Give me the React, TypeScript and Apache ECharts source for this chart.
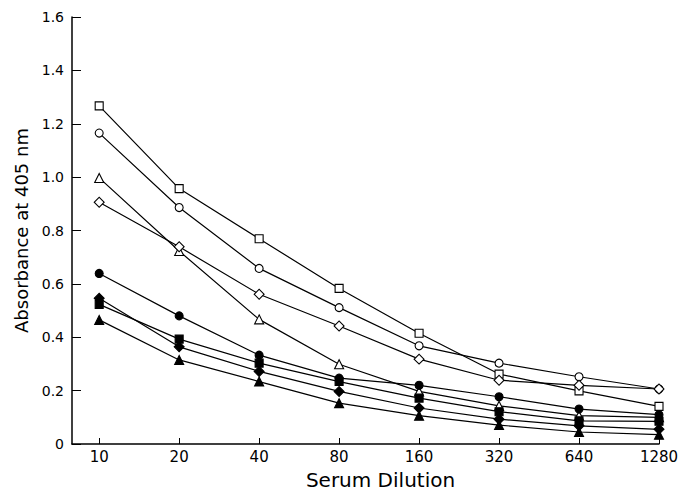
import React, { useEffect, useRef } from "react";
import * as echarts from "echarts";

const dilutions = ["10", "20", "40", "80", "160", "320", "640", "1280"];
const yTicks = ["0", "0.2", "0.4", "0.6", "0.8", "1.0", "1.2", "1.4", "1.6"];

const openSquare = [1.267, 0.957, 0.769, 0.583, 0.415, 0.262, 0.199, 0.141];
const openCircle = [1.165, 0.886, 0.658, 0.511, 0.368, 0.303, 0.252, 0.206];
const openTriangle = [0.997, 0.723, 0.467, 0.299, 0.197, 0.143, 0.106, 0.1];
const openDiamond = [0.906, 0.739, 0.561, 0.442, 0.318, 0.239, 0.22, 0.206];
const filledCircle = [0.639, 0.48, 0.333, 0.247, 0.22, 0.177, 0.131, 0.11];
const filledSquare = [0.523, 0.393, 0.303, 0.234, 0.172, 0.121, 0.087, 0.085];
const filledDiamond = [0.546, 0.364, 0.272, 0.197, 0.135, 0.093, 0.068, 0.055];
const filledTriangle = [0.465, 0.315, 0.234, 0.153, 0.106, 0.071, 0.045, 0.035];

const FONT = "DejaVu Sans";

export default function App() {
  const ref = useRef<HTMLDivElement>(null);
  useEffect(() => {
    if (!ref.current) return;
    const chart = echarts.init(ref.current, null, { renderer: "svg" });
    const idx = dilutions.map((_, i) => i);
    const mk = (vals: number[], symbol: string, filled: boolean, size: number, rotate = 0) => ({
      type: "line",
      data: vals.map((v, i) => [i, v]),
      symbol,
      symbolSize: size,
      symbolRotate: rotate,
      showAllSymbol: true,
      lineStyle: { color: "#000", width: 1.2 },
      itemStyle: { color: filled ? "#000" : "#fff", borderColor: "#000", borderWidth: 1.1 },
      z: 3,
    });
    chart.setOption({
      animation: false,
      backgroundColor: "#fff",
      grid: { left: 72, right: 23, top: 17, bottom: 52 },
      xAxis: {
        type: "value",
        min: -0.34,
        max: 7,
        name: "Serum Dilution",
        nameLocation: "middle",
        nameGap: 26,
        nameTextStyle: { fontFamily: FONT, fontSize: 20, color: "#000", padding: [0, 0, 0, 30] },
        axisLine: { onZero: false, lineStyle: { color: "#000", width: 1.5 } },
        axisTick: { inside: true, length: 6, customValues: idx, lineStyle: { color: "#000", width: 1 } },
        axisLabel: {
          customValues: idx,
          formatter: (v: number) => dilutions[Math.round(v)] ?? "",
          fontFamily: FONT,
          fontSize: 15,
          color: "#000",
          margin: 5,
        },
        splitLine: { show: false },
      },
      yAxis: {
        type: "value",
        min: 0,
        max: 1.6,
        interval: 0.2,
        name: "Absorbance at 405 nm",
        nameLocation: "middle",
        nameGap: 40,
        nameTextStyle: { fontFamily: FONT, fontSize: 18, color: "#000" },
        axisLine: { show: true, onZero: false, lineStyle: { color: "#000", width: 1.5 } },
        axisTick: { show: true, inside: true, length: 9, lineStyle: { color: "#000", width: 1 } },
        axisLabel: {
          formatter: (v: number) => yTicks[Math.round(v / 0.2)] ?? "",
          fontFamily: FONT,
          fontSize: 14,
          color: "#000",
          margin: 8,
        },
        splitLine: { show: false },
      },
      series: [
        mk(openSquare, "rect", false, 8),
        mk(openCircle, "circle", false, 8),
        mk(openTriangle, "triangle", false, 9),
        mk(openDiamond, "rect", false, 7, 45),
        mk(filledCircle, "circle", true, 8),
        mk(filledSquare, "rect", true, 8),
        mk(filledDiamond, "rect", true, 7, 45),
        mk(filledTriangle, "triangle", true, 9),
      ],
    });
    return () => chart.dispose();
  }, []);
  return (
    <div
      ref={ref}
      style={{ position: "absolute", left: 0, top: 0, width: 682, height: 496 }}
    />
  );
}
